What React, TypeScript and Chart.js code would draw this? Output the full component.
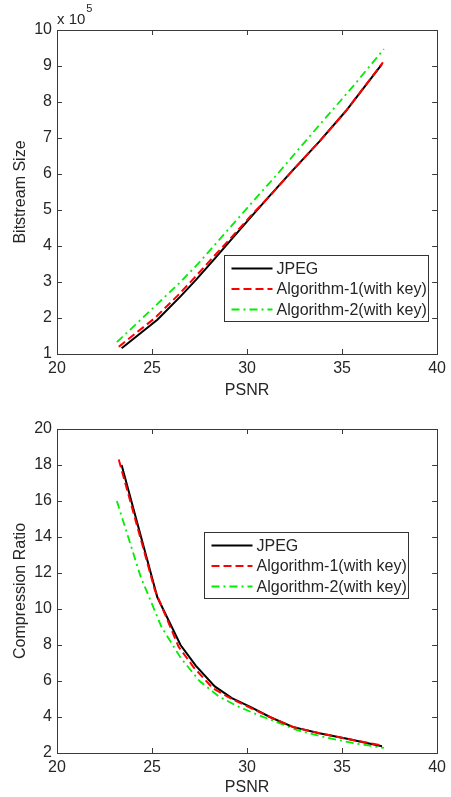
import React, { useEffect, useRef } from 'react';
import { Chart, registerables } from 'chart.js';

Chart.register(...registerables);

// ---- Data ----
const seriesLabels = ['JPEG', 'Algorithm-1(with key)', 'Algorithm-2(with key)'];

const psnrJpeg = [23.4, 25.28, 26.5, 27.3, 28.3, 29.2, 30.2, 31.2, 32.4, 33.8, 35.2, 37.1];
const sizeJpeg = [1.16, 1.95, 2.6, 3.05, 3.65, 4.2, 4.8, 5.4, 6.1, 6.9, 7.75, 9.05];
const crJpeg = [18.0, 10.65, 8.0, 6.85, 5.7, 5.05, 4.55, 4.0, 3.45, 3.1, 2.8, 2.37];

const psnrAlg1 = [23.25, 25.15, 26.4, 27.2, 28.2, 29.2, 30.2, 31.3, 32.4, 33.8, 35.2, 37.15];
const sizeAlg1 = [1.2, 2.0, 2.65, 3.1, 3.68, 4.25, 4.84, 5.45, 6.1, 6.9, 7.75, 9.1];
const crAlg1 = [18.3, 11.05, 7.9, 6.75, 5.6, 5.0, 4.5, 3.95, 3.45, 3.1, 2.8, 2.4];

const psnrAlg2 = [23.15, 24.4, 25.5, 26.5, 27.5, 28.5, 29.5, 30.5, 31.6, 32.6, 34.2, 35.6, 37.2];
const sizeAlg2 = [1.33, 1.95, 2.5, 3.0, 3.55, 4.15, 4.75, 5.35, 6.0, 6.62, 7.6, 8.45, 9.47];
const crAlg2 = [16.0, 11.8, 9.0, 7.3, 6.0, 5.15, 4.6, 4.15, 3.7, 3.28, 2.85, 2.55, 2.28];

const xRange = [20, 40];
const xStep = 5;
const sizeRange = [1, 10];
const sizeStep = 1;
const crRange = [2, 20];
const crStep = 2;

// ---- Styles ----
const FONT = '"Liberation Sans", Arial, Helvetica, sans-serif';
const TEXT = '#262626';
const AXIS = '#3a3a3a';

const pts = (xs: number[], ys: number[]) => xs.map((x, i) => ({ x, y: ys[i] }));

function makeDatasets(ys: number[][]) {
  const xs = [psnrJpeg, psnrAlg1, psnrAlg2];
  const styles = [
    { borderColor: '#000000', borderWidth: 2, borderDash: [] as number[], order: 1 },
    { borderColor: '#ff0000', borderWidth: 2, borderDash: [8, 4], order: 0 },
    { borderColor: '#00ee00', borderWidth: 1.8, borderDash: [8, 4, 2, 4], order: 2 },
  ];
  return seriesLabels.map((label, i) => ({
    label,
    data: pts(xs[i], ys[i]),
    ...styles[i],
    pointRadius: 0,
    fill: false,
    tension: 0,
  }));
}

function boxPlugin(cfg: { legendRight: number; legendTop: number; exponent: boolean }) {
  return {
    id: 'matlabBox',
    afterDatasetsDraw(chart: any) {
      const ctx = chart.ctx as CanvasRenderingContext2D;
      const { left, right, top, bottom } = chart.chartArea;
      ctx.save();
      // box
      ctx.strokeStyle = AXIS;
      ctx.lineWidth = 1;
      ctx.setLineDash([]);
      ctx.strokeRect(Math.round(left) + 0.5, Math.round(top) + 0.5, Math.round(right - left), Math.round(bottom - top));
      // inward ticks
      const tl = 5;
      const xs = chart.scales.x;
      ctx.beginPath();
      xs.ticks.forEach((t: any) => {
        const px = Math.round(xs.getPixelForValue(t.value)) + 0.5;
        ctx.moveTo(px, bottom);
        ctx.lineTo(px, bottom - tl);
        ctx.moveTo(px, top);
        ctx.lineTo(px, top + tl);
      });
      const ys = chart.scales.y;
      ys.ticks.forEach((t: any) => {
        const py = Math.round(ys.getPixelForValue(t.value)) + 0.5;
        ctx.moveTo(left, py);
        ctx.lineTo(left + tl, py);
        ctx.moveTo(right, py);
        ctx.lineTo(right - tl, py);
      });
      ctx.stroke();

      // legend
      const lw = 204;
      const lh = 66;
      const lx = Math.round(right - cfg.legendRight - lw) + 0.5;
      const ly = Math.round(top + cfg.legendTop) + 0.5;
      ctx.fillStyle = '#ffffff';
      ctx.fillRect(lx, ly, lw, lh);
      ctx.strokeStyle = '#333333';
      ctx.strokeRect(lx, ly, lw, lh);
      chart.data.datasets.forEach((ds: any, i: number) => {
        const ry = ly + 13 + i * 20.5;
        ctx.beginPath();
        ctx.strokeStyle = ds.borderColor;
        ctx.lineWidth = ds.borderWidth;
        ctx.setLineDash(ds.borderDash || []);
        ctx.moveTo(lx + 7, ry);
        ctx.lineTo(lx + 48, ry);
        ctx.stroke();
        ctx.setLineDash([]);
        ctx.fillStyle = TEXT;
        ctx.font = `16px ${FONT}`;
        ctx.textBaseline = 'middle';
        ctx.textAlign = 'left';
        ctx.fillText(ds.label, lx + 52, ry + 1);
      });

      if (cfg.exponent) {
        ctx.fillStyle = TEXT;
        ctx.textBaseline = 'alphabetic';
        ctx.textAlign = 'left';
        ctx.font = `15px ${FONT}`;
        ctx.fillText('x 10', left, top - 6);
        const w = ctx.measureText('x 10').width;
        ctx.font = `11px ${FONT}`;
        ctx.fillText('5', left + w + 1, top - 18);
      }
      ctx.restore();
    },
  };
}

function makeConfig(opts: {
  ys: number[][];
  yRange: number[];
  yStep: number;
  yTitle: string;
  padTop: number;
  xAxisHeight: number;
  xTitlePad: number;
  legendRight: number;
  legendTop: number;
  exponent: boolean;
}): any {
  const tickFont = { family: FONT, size: 16 };
  return {
    type: 'line',
    data: { datasets: makeDatasets(opts.ys) },
    options: {
      animation: false,
      responsive: false,
      events: [],
      layout: { padding: { top: opts.padTop, right: 8, left: 0, bottom: 0 } },
      plugins: { legend: { display: false }, tooltip: { enabled: false } },
      scales: {
        x: {
          type: 'linear',
          min: xRange[0],
          max: xRange[1],
          grid: { display: false, drawTicks: false },
          border: { display: false },
          ticks: { stepSize: xStep, color: TEXT, font: tickFont, padding: 5, maxRotation: 0, autoSkip: false },
          title: { display: true, text: 'PSNR', color: TEXT, font: tickFont, padding: { top: opts.xTitlePad, bottom: 0 } },
          afterFit: (s: any) => {
            s.height = opts.xAxisHeight;
          },
        },
        y: {
          type: 'linear',
          min: opts.yRange[0],
          max: opts.yRange[1],
          grid: { display: false, drawTicks: false },
          border: { display: false },
          ticks: { stepSize: opts.yStep, color: TEXT, font: tickFont, padding: 5, autoSkip: false },
          title: { display: true, text: opts.yTitle, color: TEXT, font: tickFont, padding: { top: 10.5, bottom: 0 } },
          afterFit: (s: any) => {
            s.width = 57;
          },
        },
      },
    },
    plugins: [boxPlugin({ legendRight: opts.legendRight, legendTop: opts.legendTop, exponent: opts.exponent })],
  };
}

export default function App() {
  const topRef = useRef<HTMLCanvasElement>(null);
  const botRef = useRef<HTMLCanvasElement>(null);

  useEffect(() => {
    document.body.style.margin = '0';
    const c1 = new Chart(
      topRef.current!,
      makeConfig({
        ys: [sizeJpeg, sizeAlg1, sizeAlg2],
        yRange: sizeRange,
        yStep: sizeStep,
        yTitle: 'Bitstream Size',
        padTop: 30,
        xAxisHeight: 46,
        xTitlePad: 4.4,
        legendRight: 9,
        legendTop: 225,
        exponent: true,
      })
    );
    const c2 = new Chart(
      botRef.current!,
      makeConfig({
        ys: [crJpeg, crAlg1, crAlg2],
        yRange: crRange,
        yStep: crStep,
        yTitle: 'Compression Ratio',
        padTop: 29,
        xAxisHeight: 44,
        xTitlePad: 1.4,
        legendRight: 29,
        legendTop: 103,
        exponent: false,
      })
    );
    return () => {
      c1.destroy();
      c2.destroy();
    };
  }, []);

  return (
    <div style={{ width: 451, height: 797, background: '#fff', overflow: 'hidden' }}>
      <canvas ref={topRef} width={451} height={400} style={{ display: 'block' }} />
      <canvas ref={botRef} width={451} height={397} style={{ display: 'block' }} />
    </div>
  );
}
